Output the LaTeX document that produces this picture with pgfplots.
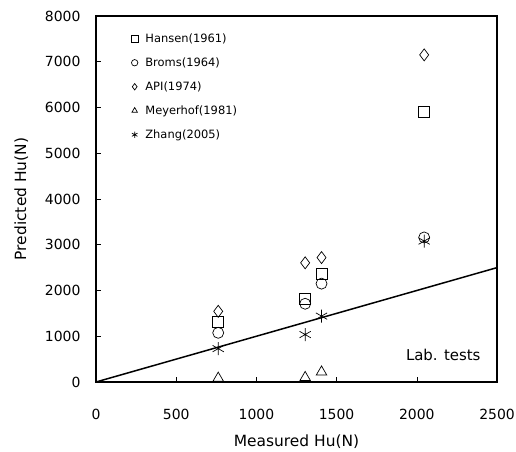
\documentclass[border=0pt]{standalone}
\usepackage{pgfplots}
\pgfplotsset{compat=1.18}
\usepackage{fontspec}
\setmainfont{DejaVu Sans}

\begin{document}
\begin{tikzpicture}[x=1bp,y=1bp]
\begin{axis}[
    at={(0,0)}, anchor=south west,
    scale only axis,
    width=401bp, height=366bp,
    xmin=0, xmax=2500, ymin=0, ymax=8000,
    xtick={0,500,1000,1500,2000,2500},
    ytick={0,1000,...,8000},
    tick align=inside,
    xtick pos=left, ytick pos=left,
    major tick length=5bp,
    axis line style={line width=1.5bp},
    tick style={black, line width=0.6pt},
    /pgf/number format/assume math mode=true,
    /pgf/number format/1000 sep={},
    ticklabel style={font=\fontsize{14}{16}\selectfont},
    xticklabel style={yshift=-24bp},
    yticklabel style={xshift=-12bp},
    xlabel={Measured Hu(N)},
    ylabel={Predicted Hu(N)},
    label style={font=\fontsize{15.5}{18}\selectfont},
    xlabel style={yshift=-8bp},
    ylabel style={yshift=10bp},
    legend style={at={(0.088,0.955)}, anchor=north west, draw=none, fill=none,
        font=\fontsize{11.5}{13}\selectfont, row sep=11.8bp, inner sep=0pt,
        nodes={inner ysep=1bp, inner xsep=7.5bp}},
    legend cell align=left,
    every axis plot/.append style={black, line width=0.7pt},
    legend image post style={mark size=3.2bp},
]
\addplot[only marks, mark=square, mark size=5.5bp] coordinates {
    (762,1310) (1304,1825) (1406,2370) (2046,5910)};
\addlegendentry{Hansen(1961)}
\addplot[only marks, mark=o, mark size=5.5bp] coordinates {
    (762,1075) (1304,1710) (1406,2150) (2046,3160)};
\addlegendentry{Broms(1964)}
\addplot[only marks, mark=diamond, mark size=6bp] coordinates {
    (762,1545) (1304,2605) (1406,2720) (2046,7150)};
\addlegendentry{API(1974)}
\addplot[only marks, mark=triangle, mark size=6bp] coordinates {
    (762,85) (1304,100) (1406,220)};
\addlegendentry{Meyerhof(1981)}
\addplot[only marks, mark=asterisk, mark size=6.5bp] coordinates {
    (762,730) (1304,1037) (1406,1440) (2046,3080)};
\addlegendentry{Zhang(2005)}
\addplot[black, line width=1.5pt, forget plot] coordinates {(0,0) (2500,2500)};
\node[font=\fontsize{15}{18}\selectfont] at (axis cs:2165,600) {Lab. tests};
\end{axis}
\draw[line width=1.5bp] (0,366) -- (401,366) -- (401,0);
\pgfresetboundingbox
\path[use as bounding box] (-96,-70) rectangle (420,382);
\end{tikzpicture}
\end{document}
